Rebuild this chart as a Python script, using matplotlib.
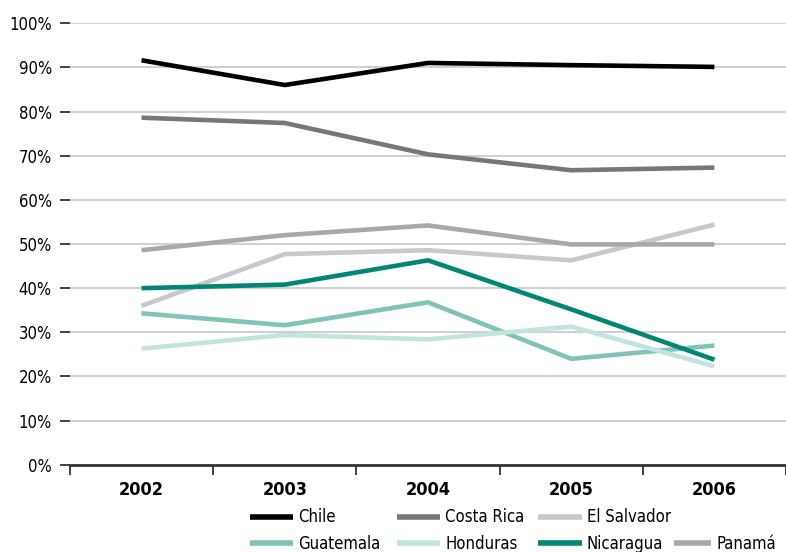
import matplotlib.pyplot as plt
import numpy as np

# DADOS (PORCENTAGEM)
anos = ['2002', '2003', '2004', '2005', '2006']
paises = ['Chile', 'Costa Rica', 'El Salvador', 'Guatemala', 'Honduras', 'Nicaragua', 'Panamá']

chile = [91.6, 86.0, 91.0, 90.5, 90.1]
costa_rica = [78.6, 77.4, 70.3, 66.7, 67.3]
el_salvador = [36.0, 47.7, 48.6, 46.3, 54.4]
guatemala = [34.3, 31.6, 36.8, 24.0, 27.0]
honduras = [26.3, 29.4, 28.4, 31.3, 22.3]
nicaragua = [40.0, 40.8, 46.3, 35.2, 23.8]
panama = [48.6, 52.0, 54.2, 49.9, 49.9]

series = [chile, costa_rica, el_salvador, guatemala, honduras, nicaragua, panama]
cores = ['#000000', '#77767b', '#c8c8c8', '#80c4b7', '#c2e4de', '#008673', '#a8a8ab']

plt.rcParams['font.family'] = ['DejaVu Sans']
plt.rcParams['font.stretch'] = 'condensed'

fig = plt.figure(figsize=(7.86, 5.52), dpi=100)
ax = fig.add_axes([0.089, 0.158, 0.911, 0.8])

x = np.arange(len(anos))
linhas = []
for valores, nome, cor in zip(series, paises, cores):
    l, = ax.plot(x, valores, color=cor, lw=3.3, label=nome, solid_capstyle='butt', zorder=3)
    linhas.append(l)

ax.set_xlim(-0.5, 4.5)
ax.set_ylim(0, 100)
ax.set_yticks(np.arange(0, 101, 10))
ax.set_yticklabels(['%d%%' % v for v in range(0, 101, 10)], fontsize=12)
ax.yaxis.grid(True, color='#d0d0d0', lw=1.5, zorder=0)
ax.tick_params(axis='y', length=7, width=1.3, color='#333333', pad=6)

ax.set_xticks(x)
ax.set_xticklabels(anos, fontsize=13, fontweight='bold')
ax.set_xticks(np.arange(-0.5, 5, 1), minor=True)
ax.tick_params(axis='x', which='major', length=0, pad=12)
ax.tick_params(axis='x', which='minor', length=7, width=1.3, color='#333333')

for lado in ['top', 'right', 'left']:
    ax.spines[lado].set_visible(False)
ax.spines['bottom'].set_linewidth(2)
ax.spines['bottom'].set_color('#333333')

# LEGENDA: UMA COLUNA POR VEZ PARA FIXAR AS POSIÇÕES
colunas = [[0, 3], [1, 4], [2, 5], [6]]
pos_x = [0.318, 0.505, 0.685, 0.858]
for idx, px in zip(colunas, pos_x):
    hs = [linhas[i] for i in idx]
    ls = [paises[i] for i in idx]
    y_topo = 0.079 if len(idx) == 2 else 0.0315
    leg = fig.legend(hs, ls, loc='upper left', bbox_to_anchor=(px, y_topo),
                     frameon=False, fontsize=12, handlelength=2.6 if len(idx) == 2 else 2.2,
                     handletextpad=0.3, labelspacing=0.5, borderpad=0, borderaxespad=0)
    for ln in leg.get_lines():
        ln.set_linewidth(4)

plt.savefig('out.png', dpi=100)
